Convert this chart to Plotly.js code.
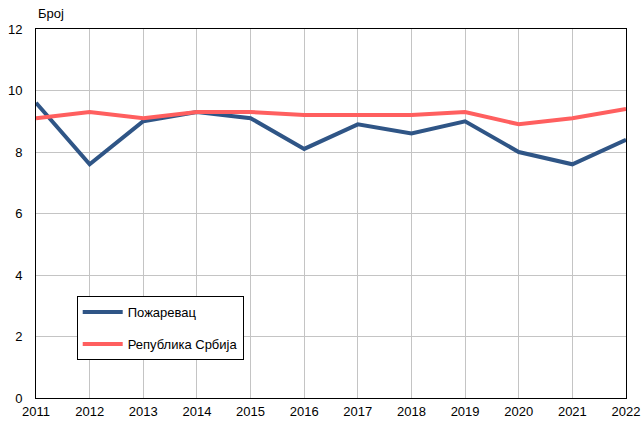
<!DOCTYPE html>
<html>
<head>
<meta charset="utf-8">
<script src="https://cdn.plot.ly/plotly-3.0.1.min.js"></script>
<style>body{margin:0;background:#fff}#chart{width:643px;height:421px}</style>
</head>
<body>
<div id="chart"></div>
<script>
// years and values
var years = [2011, 2012, 2013, 2014, 2015, 2016, 2017, 2018, 2019, 2020, 2021, 2022];
var pozarevac = [9.6, 7.6, 9.0, 9.3, 9.1, 8.1, 8.9, 8.6, 9.0, 8.0, 7.6, 8.4];
var srbija = [9.1, 9.3, 9.1, 9.3, 9.3, 9.2, 9.2, 9.2, 9.3, 8.9, 9.1, 9.4];
var yTicks = [0, 2, 4, 6, 8, 10, 12];

var trace1 = {
    x: years, y: pozarevac, name: "Пожаревац", legendgroup: "a",
    mode: "lines", type: "scatter",
    line: {color: "#2f5586", width: 4}
};
var trace2 = {
    x: years, y: srbija, name: "Република Србија", legendgroup: "b",
    mode: "lines", type: "scatter",
    line: {color: "#ff5f5f", width: 4}
};

var layout = {
    width: 643, height: 421,
    margin: {l: 36, r: 17, t: 29, b: 23},
    paper_bgcolor: "#fff", plot_bgcolor: "#fff",
    font: {family: "Liberation Sans, Arial, sans-serif", size: 13, color: "#000"},
    showlegend: true,
    legend: {
        x: 0.069, y: 0.276, xanchor: "left", yanchor: "top",
        bordercolor: "#000", borderwidth: 1, bgcolor: "#fff",
        font: {size: 13}, itemwidth: 40, tracegroupgap: 12
    },
    xaxis: {
        range: [2011, 2022], tickvals: years,
        ticks: "outside", ticklen: 1, tickcolor: "rgba(0,0,0,0)",
        showgrid: true, gridcolor: "#c4c4c4", gridwidth: 1,
        showline: true, linecolor: "#000", linewidth: 1, mirror: true,
        zeroline: false, fixedrange: true
    },
    yaxis: {
        range: [0, 12], tickvals: yTicks,
        ticks: "outside", ticklen: 10, tickcolor: "rgba(0,0,0,0)",
        showgrid: true, gridcolor: "#c4c4c4", gridwidth: 1,
        showline: true, linecolor: "#000", linewidth: 1, mirror: true,
        zeroline: false, fixedrange: true
    },
    annotations: [{
        text: "Број", xref: "paper", yref: "paper", x: 0, y: 1,
        xanchor: "left", yanchor: "bottom", yshift: 6, showarrow: false,
        font: {size: 13}
    }]
};

Plotly.newPlot("chart", [trace1, trace2], layout, {displayModeBar: false, staticPlot: true});
</script>
</body>
</html>
